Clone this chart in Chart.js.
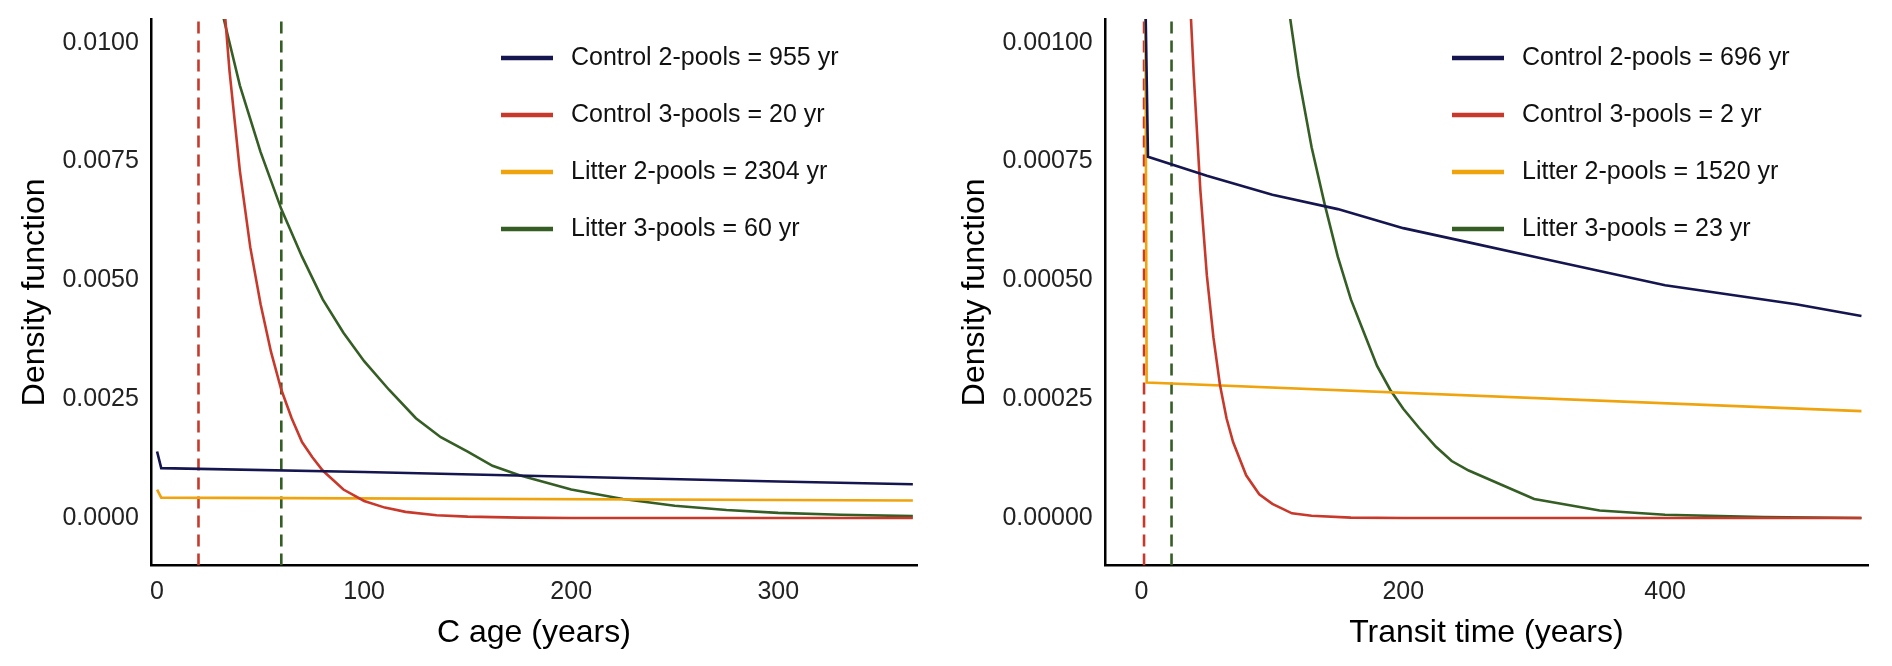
<!DOCTYPE html>
<html><head><meta charset="utf-8">
<script src="https://cdn.jsdelivr.net/npm/chart.js@4"></script>
<style>body{margin:0;background:#fff;width:1892px;height:666px;position:relative;overflow:hidden}
.p{position:absolute;top:0;height:666px}</style></head><body>
<div class="p" style="left:0;width:935px"><canvas id="c1"></canvas></div>
<div class="p" style="left:940px;width:942px"><canvas id="c2"></canvas></div>
<script>
const colors=['#15154f','#c8392b','#efa30c','#355e25'];
const leftNames=['Control 2-pools = 955 yr','Control 3-pools = 20 yr','Litter 2-pools = 2304 yr','Litter 3-pools = 60 yr'];
const rightNames=['Control 2-pools = 696 yr','Control 3-pools = 2 yr','Litter 2-pools = 1520 yr','Litter 3-pools = 23 yr'];
// Left panel (C age)
const L_c2_x=[0,2,100,200,300,365], L_c2_y=[0.0014,0.00105,0.00097,0.00087,0.00077,0.00071];
const L_c3_x=[30,35,40,45,50,55,60,65,70,75,80,90,100,110,120,135,150,175,200,365];
const L_c3_y=[0.0121,0.0094,0.0073,0.0057,0.0045,0.0035,0.0027,0.0021,0.0016,0.00128,0.001,0.0006,0.00036,0.00022,0.00013,0.00006,0.00003,0.00001,0,0];
const L_l2_x=[0,2,365], L_l2_y=[0.0006,0.00043,0.00037];
const L_l3_x=[25,30,35,40,45,50,60,70,80,90,100,112,125,137,150,162,175,200,225,250,275,300,330,365];
const L_l3_y=[0.0118,0.0109,0.0100,0.0091,0.0084,0.0077,0.0065,0.0055,0.0046,0.0039,0.0033,0.0027,0.0021,0.0017,0.0014,0.0011,0.0009,0.0006,0.0004,0.00026,0.00017,0.00011,0.00007,0.00004];
const L_means=[20,60];
// Right panel (Transit time)
const R_c2_x=[3,5,50,100,150,200,250,300,350,400,450,500,550];
const R_c2_y=[0.0011,0.00076,0.00072,0.00068,0.00065,0.00061,0.00058,0.00055,0.00052,0.00049,0.00047,0.00045,0.000425];
const R_c3_x=[35,40,45,50,55,60,65,70,80,90,100,115,130,160,200,550];
const R_c3_y=[0.00121,0.00093,0.00069,0.00051,0.00038,0.00028,0.00021,0.00016,0.00009,0.00005,0.00003,0.00001,0.000005,0.000001,0,0];
const R_l2_x=[3,4,550], R_l2_y=[0.0011,0.000285,0.000225];
const R_l3_x=[105,110,120,130,140,150,160,170,180,190,200,212,225,237,250,275,300,350,400,475,550];
const R_l3_y=[0.00121,0.00112,0.00093,0.00078,0.00066,0.00055,0.00046,0.00039,0.00032,0.00027,0.00023,0.00019,0.00015,0.00012,0.0001,0.00007,0.00004,0.000016,0.000007,0.000002,0];
const R_means=[2,23];

const F='Arial, "Liberation Sans"';
const zip=(xs,ys)=>xs.map((x,i)=>({x,y:ys[i]}));
function make(id,series,means,names,xr,yr,step,dec,xticks,xtitle,pad){
  const ds=series.map((s,i)=>({data:zip(s[0],s[1]),borderColor:colors[i],borderWidth:2.6,pointRadius:0,tension:0,fill:false}));
  means.forEach((m,i)=>ds.push({data:[{x:m,y:yr[0]},{x:m,y:yr[1]}],borderColor:colors[i?3:1],borderWidth:2.6,borderDash:[12,7],pointRadius:0}));
  const legendPlugin={id:'lg',afterDraw(c){const g=c.ctx,a=c.chartArea;g.save();g.font='25px '+F;g.textBaseline='middle';
    names.forEach((n,i)=>{const y=a.top+39+i*57,x=a.right-416;g.strokeStyle=colors[i];g.lineWidth=4.5;g.beginPath();g.moveTo(x,y);g.lineTo(x+52,y);g.stroke();g.fillStyle='#111';g.fillText(n,x+70,y);});g.restore();}};
  new Chart(document.getElementById(id),{type:'line',data:{datasets:ds},plugins:[legendPlugin],
   options:{responsive:true,maintainAspectRatio:false,animation:false,layout:{padding:pad},
    plugins:{legend:{display:false},tooltip:{enabled:false}},
    scales:{x:{type:'linear',min:xr[0],max:xr[1],grid:{display:false,drawOnChartArea:false,drawTicks:true,tickLength:8,tickColor:'#000',tickWidth:2},border:{color:'#000',width:2.5},
       afterBuildTicks:ax=>{ax.ticks=xticks.map(v=>({value:v}));},
       ticks:{color:'#222',font:{size:25,family:F},maxRotation:0,padding:4},
       title:{display:true,text:xtitle,color:'#000',font:{size:32,family:F},padding:{top:2}}},
     y:{min:yr[0],max:yr[1],grid:{display:false,drawOnChartArea:false,drawTicks:true,tickLength:8,tickColor:'#000',tickWidth:2},border:{color:'#000',width:2.5},
       afterBuildTicks:ax=>{const t=[];for(let v=0;v<=yr[1]+1e-12;v+=step)t.push({value:v});ax.ticks=t;},
       ticks:{color:'#222',font:{size:25,family:F},padding:4,callback:v=>v.toFixed(dec)},
       title:{display:true,text:'Density function',color:'#000',font:{size:32,family:F},padding:{bottom:4}}}}}});
}
make('c1',[[L_c2_x,L_c2_y],[L_c3_x,L_c3_y],[L_l2_x,L_l2_y],[L_l3_x,L_l3_y]],L_means,leftNames,[-3,367],[-0.001,0.0105],0.0025,4,[0,100,200,300],'C age (years)',{top:18,right:18,bottom:10,left:12});
make('c2',[[R_c2_x,R_c2_y],[R_c3_x,R_c3_y],[R_l2_x,R_l2_y],[R_l3_x,R_l3_y]],R_means,rightNames,[-28,555],[-0.0001,0.00105],0.00025,5,[0,200,400],'Transit time (years)',{top:18,right:14,bottom:10,left:12});
</script></body></html>
